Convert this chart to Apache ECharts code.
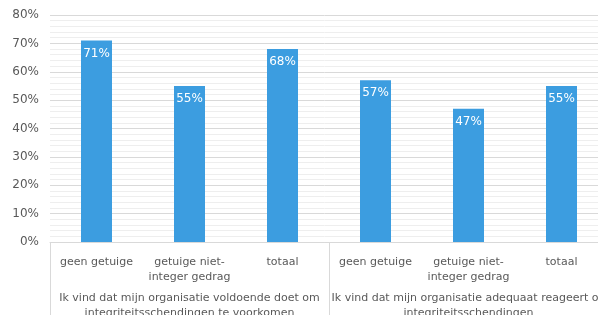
<!DOCTYPE html>
<html>
<head>
<meta charset="utf-8">
<script src="https://cdn.jsdelivr.net/npm/echarts@6/dist/echarts.min.js"></script>
<style>
html, body { margin: 0; padding: 0; background: #fff; }
#chart { width: 598px; height: 315px; }
</style>
</head>
<body>
<div id="chart"></div>
<script>
// categorieen en waarden
var categories = ['geen getuige', 'getuige niet-\ninteger gedrag', 'totaal', 'geen getuige', 'getuige niet-\ninteger gedrag', 'totaal'];
var groups = [
    'Ik vind dat mijn organisatie voldoende doet om\nintegriteitsschendingen te voorkomen',
    'Ik vind dat mijn organisatie adequaat reageert op\nintegriteitsschendingen'
];
var values = [71, 55, 68, 57, 47, 55];
var yTicks = [0, 10, 20, 30, 40, 50, 60, 70, 80];

var font = 'DejaVu Sans';
var textColor = '#595959';

var myChart = echarts.init(document.getElementById('chart'));
var option = {
    animation: false,
    grid: {
        left: 50,
        top: 15,
        width: 558,
        height: 227,
        containLabel: false,
        outerBoundsMode: 'none'
    },
    xAxis: [{
        type: 'category',
        data: categories,
        axisLine: { show: true, lineStyle: { color: '#d9d9d9' } },
        axisTick: { show: false },
        axisLabel: {
            color: textColor,
            fontFamily: font,
            fontSize: 11,
            lineHeight: 15,
            margin: 13,
            interval: 0
        }
    }, {
        type: 'category',
        data: groups,
        position: 'bottom',
        axisLine: { show: false },
        axisTick: {
            show: true,
            length: 90,
            lineStyle: { color: '#d9d9d9' }
        },
        axisLabel: {
            color: textColor,
            fontFamily: font,
            fontSize: 11,
            lineHeight: 15,
            margin: 49,
            interval: 0
        }
    }],
    yAxis: {
        type: 'value',
        min: 0,
        max: 80,
        interval: 10,
        axisLine: { show: false },
        axisTick: { show: false },
        axisLabel: {
            color: textColor,
            fontFamily: font,
            fontSize: 12,
            margin: 11,
            formatter: function (v) {
                return yTicks.indexOf(v) >= 0 ? v + '%' : '';
            }
        },
        splitLine: { show: true, lineStyle: { color: '#d9d9d9' } },
        minorTick: { show: false, splitNumber: 5 },
        minorSplitLine: { show: true, lineStyle: { color: '#eeeeee' } }
    },
    series: [{
        type: 'bar',
        data: values,
        barWidth: 31,
        itemStyle: { color: '#3c9de0' },
        label: {
            show: true,
            position: 'insideTop',
            distance: 7,
            color: '#fff',
            fontFamily: font,
            fontSize: 12,
            fontWeight: 'normal',
            formatter: '{c}%'
        }
    }]
};
myChart.setOption(option);
</script>
</body>
</html>
